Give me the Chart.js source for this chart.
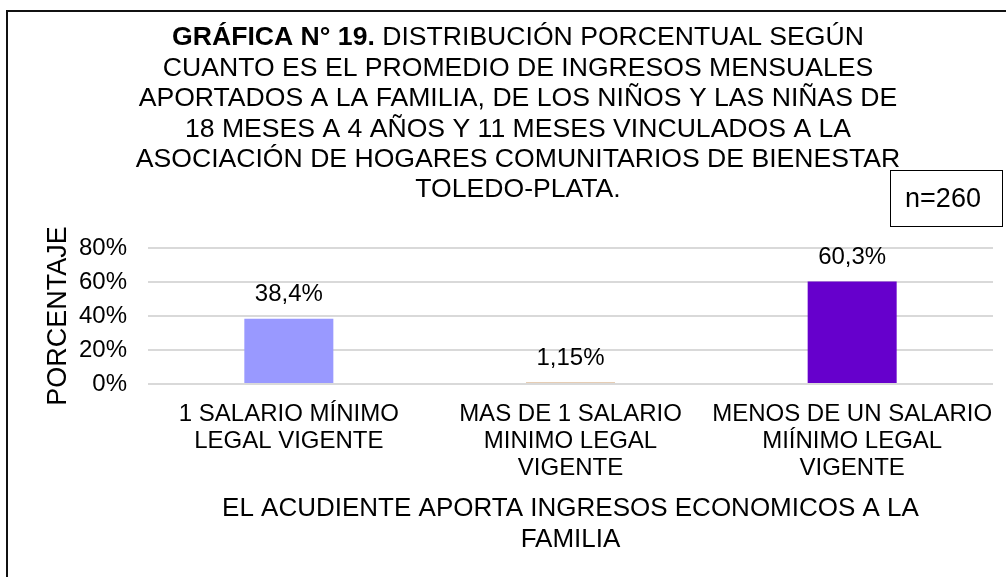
<!DOCTYPE html>
<html>
<head>
<meta charset="utf-8">
<script src="https://cdn.jsdelivr.net/npm/chart.js@4.4.1/dist/chart.umd.min.js"></script>
<style>
  html, body { margin: 0; padding: 0; background: #fff; }
  #wrap { width: 1006px; height: 577px; position: relative; }
</style>
</head>
<body>
<div id="wrap"><canvas id="c" width="1006" height="577"></canvas></div>
<script>
// data
const categories = [
  ['1 SALARIO MÍNIMO', 'LEGAL VIGENTE'],
  ['MAS DE 1 SALARIO', 'MINIMO LEGAL', 'VIGENTE'],
  ['MENOS DE UN SALARIO', 'MIÍNIMO LEGAL', 'VIGENTE'],
];
const percents = [38.4, 1.15, 60.3];
const barColors = ['#9999ff', '#e6cdb4', '#6600cc'];
const yTicks = [0, 20, 40, 60, 80];

const titleBold = 'GRÁFICA N° 19.';
const titleLines = [
  ' DISTRIBUCIÓN PORCENTUAL SEGÚN',
  'CUANTO ES EL PROMEDIO DE INGRESOS MENSUALES',
  'APORTADOS A LA FAMILIA, DE LOS NIÑOS Y LAS NIÑAS DE',
  '18 MESES A 4 AÑOS Y 11 MESES VINCULADOS A LA',
  'ASOCIACIÓN DE HOGARES COMUNITARIOS DE BIENESTAR',
  'TOLEDO-PLATA.',
];
const sampleText = 'n=260';
const xTitle = ['EL ACUDIENTE APORTA INGRESOS ECONOMICOS A LA', 'FAMILIA'];
const yTitle = 'PORCENTAJE';

const FAMILY = '"Liberation Sans", Arial, sans-serif';
const fmtPct = v => String(v).replace('.', ',') + '%';

// frame, title and n box
const decor = {
  id: 'decor',
  afterDraw(chart) {
    const ctx = chart.ctx;
    ctx.save();
    ctx.strokeStyle = '#111';
    ctx.lineWidth = 2;
    ctx.beginPath();
    ctx.moveTo(7, 577); ctx.lineTo(7, 11); ctx.lineTo(1006, 11);
    ctx.stroke();

    ctx.fillStyle = '#000';
    ctx.textBaseline = 'middle';
    const cx = 518;
    // first line: bold run + normal run
    const bold = 'bold 26.6px ' + FAMILY, normal = '26.6px ' + FAMILY;
    ctx.font = bold; const wb = ctx.measureText(titleBold).width;
    ctx.font = normal; const wn = ctx.measureText(titleLines[0]).width;
    let x0 = cx - (wb + wn) / 2;
    ctx.textAlign = 'left';
    ctx.font = bold; ctx.fillText(titleBold, x0, 38);
    ctx.font = normal; ctx.fillText(titleLines[0], x0 + wb, 38);
    ctx.textAlign = 'center';
    for (let i = 1; i < titleLines.length; i++) {
      ctx.fillText(titleLines[i], cx, 38 + i * 30.4);
    }

    // n box
    ctx.fillStyle = '#fff';
    ctx.fillRect(890, 170, 113, 57);
    ctx.strokeStyle = '#000';
    ctx.lineWidth = 1;
    ctx.strokeRect(890.5, 170.5, 112, 56);
    ctx.fillStyle = '#000';
    ctx.font = '27px ' + FAMILY;
    ctx.fillText(sampleText, 943, 200);
    ctx.restore();
  }
};

// value labels above bars
const valueLabels = {
  id: 'valueLabels',
  afterDatasetsDraw(chart) {
    const ctx = chart.ctx;
    const meta = chart.getDatasetMeta(0);
    ctx.save();
    ctx.fillStyle = '#000';
    ctx.font = '24px ' + FAMILY;
    ctx.textAlign = 'center';
    ctx.textBaseline = 'middle';
    meta.data.forEach((bar, i) => {
      ctx.fillText(fmtPct(percents[i]), bar.x, bar.y - 24);
    });
    ctx.restore();
  }
};

new Chart(document.getElementById('c').getContext('2d'), {
  type: 'bar',
  data: {
    labels: categories,
    datasets: [{
      data: percents,
      backgroundColor: barColors,
      borderWidth: 0,
      barPercentage: 0.316,
      categoryPercentage: 1,
    }],
  },
  options: {
    responsive: false,
    animation: false,
    events: [],
    layout: { padding: { top: 248, right: 13, bottom: 0, left: 0 } },
    plugins: { legend: { display: false }, title: { display: false }, tooltip: { enabled: false } },
    scales: {
      x: {
        grid: { display: false },
        border: { display: false },
        ticks: { color: '#000', font: { family: FAMILY, size: 24, lineHeight: 1.12 }, padding: 9, maxRotation: 0, autoSkip: false },
        title: { display: true, text: xTitle, color: '#000', font: { family: FAMILY, size: 26, lineHeight: 1.19 }, padding: { top: 0, bottom: 22 } },
        afterFit(scale) { scale.height = 193; },
      },
      y: {
        min: 0, max: 80,
        afterBuildTicks(scale) { scale.ticks = yTicks.map(v => ({ value: v })); },
        grid: { color: '#d9d9d9', lineWidth: 2, drawTicks: false },
        border: { display: false },
        ticks: { color: '#000', font: { family: FAMILY, size: 24 }, padding: 21, callback: v => v + '%' },
        title: { display: true, text: yTitle, color: '#000', font: { family: FAMILY, size: 27, lineHeight: 1.2 }, padding: { top: 42, bottom: 0 } },
        afterFit(scale) { scale.width = 148; },
      },
    },
  },
  plugins: [decor, valueLabels],
});
</script>
</body>
</html>
